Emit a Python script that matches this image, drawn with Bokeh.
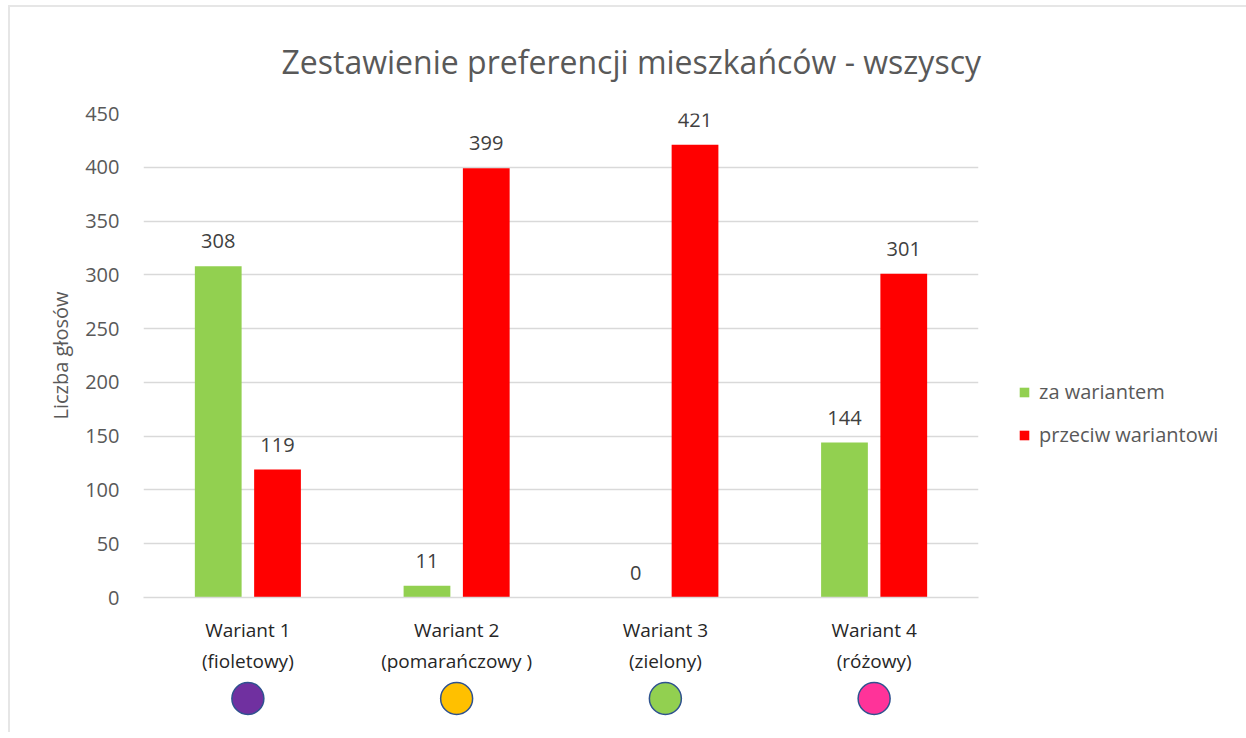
from bokeh.plotting import figure
from bokeh.models import ColumnDataSource, FactorRange, Range1d, Legend, LegendItem, FixedTicker
from bokeh.transform import dodge
from bokeh.layouts import column
from bokeh.embed import file_html
from bokeh.resources import INLINE
from bokeh.core.properties import value

categories = ["Wariant 1\n(fioletowy)", "Wariant 2\n(pomarańczowy )", "Wariant 3\n(zielony)", "Wariant 4\n(różowy)"]
za_wariantem = [308, 11, 0, 144]
przeciw_wariantowi = [119, 399, 421, 301]
variant_colors = ["#7030A0", "#FFC000", "#92D050", "#FF3399"]
y_ticks = [0, 50, 100, 150, 200, 250, 300, 350, 400, 450]

FONT = "Open Sans"
TXT = "#595959"
LEFT = 133

src = ColumnDataSource(dict(
    cat=categories,
    za=za_wariantem,
    przeciw=przeciw_wariantowi,
    za_lbl=[str(v) for v in za_wariantem],
    przeciw_lbl=[str(v) for v in przeciw_wariantowi],
    col=variant_colors,
    zero=[0] * len(categories),
))

xr = FactorRange(*categories, range_padding=0)

p = figure(x_range=xr, y_range=Range1d(0, 450), frame_width=835, frame_height=484,
           output_backend="svg", toolbar_location=None,
           min_border_left=LEFT, min_border_top=90, min_border_bottom=68, min_border_right=10)

p.title.text = "Zestawienie preferencji mieszkańców - wszyscy"
p.title.text_font = FONT
p.title.text_font_size = "32px"
p.title.text_font_style = "normal"
p.title.text_color = TXT
p.title.align = "left"
p.title.offset = 138
p.title.standoff = 61

bw = 0.224
r1 = p.vbar(x=dodge("cat", -0.142, range=xr), top="za", width=bw, source=src,
            fill_color="#92D050", line_color=None)
r2 = p.vbar(x=dodge("cat", 0.142, range=xr), top="przeciw", width=bw, source=src,
            fill_color="#FF0000", line_color=None)

p.text(x=dodge("cat", -0.142, range=xr), y="za", text="za_lbl", source=src,
       text_align="center", text_baseline="bottom", y_offset=-18,
       text_font=value(FONT), text_font_size="20px", text_color="#404040")
p.text(x=dodge("cat", 0.142, range=xr), y="przeciw", text="przeciw_lbl", source=src,
       text_align="center", text_baseline="bottom", y_offset=-18,
       text_font=value(FONT), text_font_size="20px", text_color="#404040")

p.xgrid.grid_line_color = None
p.ygrid.grid_line_color = "#D9D9D9"
p.ygrid.grid_line_width = 1.5
p.outline_line_color = None

p.yaxis.ticker = FixedTicker(ticks=y_ticks)
p.yaxis.axis_line_color = None
p.yaxis.major_tick_line_color = None
p.yaxis.minor_tick_line_color = None
p.yaxis.major_tick_out = 0
p.yaxis.minor_tick_out = 0
p.yaxis.major_label_standoff = 24
p.yaxis.major_label_text_font = FONT
p.yaxis.major_label_text_font_size = "20px"
p.yaxis.major_label_text_color = TXT
p.yaxis.axis_label = "Liczba głosów"
p.yaxis.axis_label_text_font = FONT
p.yaxis.axis_label_text_font_size = "20px"
p.yaxis.axis_label_text_font_style = "normal"
p.yaxis.axis_label_text_color = TXT
p.yaxis.axis_label_standoff = 8

p.xaxis.axis_line_color = "#D9D9D9"
p.xaxis.axis_line_width = 1.5
p.xaxis.major_tick_line_color = None
p.xaxis.minor_tick_line_color = None
p.xaxis.major_label_standoff = 13
p.xaxis.major_label_text_font = FONT
p.xaxis.major_label_text_font_size = "19px"
p.xaxis.major_label_text_color = "#262626"

legend = Legend(items=[LegendItem(label="za wariantem", renderers=[r1]),
                       LegendItem(label="przeciw wariantowi", renderers=[r2])],
                location=(40, 149), orientation="vertical",
                label_text_font=FONT, label_text_font_size="20px", label_text_color=TXT,
                glyph_width=12, glyph_height=12, label_standoff=9, spacing=16,
                border_line_color=None, background_fill_alpha=0)
p.add_layout(legend, "right")

c = figure(x_range=xr, y_range=Range1d(-34, 22), frame_width=835, frame_height=56,
           output_backend="svg", toolbar_location=None,
           min_border_left=LEFT, min_border_top=0, min_border_bottom=0, min_border_right=10)
c.scatter(x="cat", y="zero", source=src, size=32, fill_color="col",
          line_color="#2F528F", line_width=1.5)
c.axis.visible = False
c.grid.grid_line_color = None
c.outline_line_color = None

layout = column(p, c, spacing=0,
                styles={"border-left": "2px solid #E6E6E6", "border-top": "2px solid #E6E6E6",
                        "margin-top": "5px", "margin-left": "8px"})

open("out.html", "w").write(file_html(layout, INLINE))
